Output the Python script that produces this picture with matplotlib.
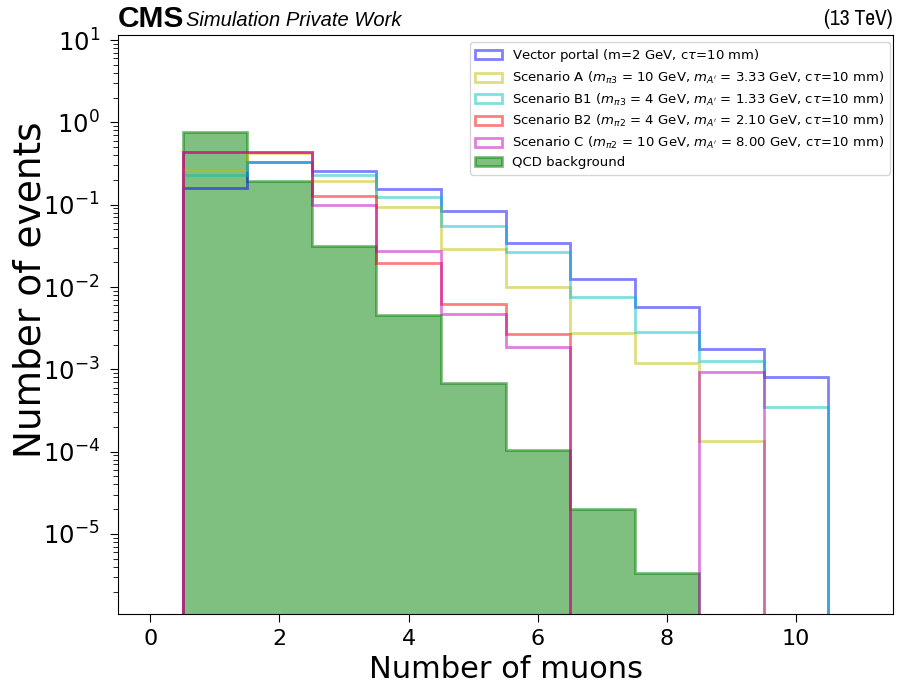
import numpy as np
import matplotlib
matplotlib.use("Agg")
import matplotlib.pyplot as plt
from matplotlib.ticker import FixedLocator, LogLocator, NullFormatter

# ---------------- data ----------------
n_muons = [1, 2, 3, 4, 5, 6, 7, 8, 9, 10]
bin_edges = [0.5, 1.5, 2.5, 3.5, 4.5, 5.5, 6.5, 7.5, 8.5, 9.5, 10.5]

vector_portal = [0.159, 0.332, 0.256, 0.153, 0.0843, 0.0339, 0.01236, 0.00565, 0.001745, 0.000811]
scenario_a = [0.263, 0.42, 0.192, 0.0943, 0.0286, 0.01005, 0.00278, 0.0012, 0.000133, 0.0]
scenario_b1 = [0.229, 0.332, 0.231, 0.1227, 0.0554, 0.02655, 0.0076, 0.002856, 0.00126, 0.000347]
scenario_b2 = [0.439, 0.432, 0.126, 0.01935, 0.00615, 0.00265, 0.0, 0.0, 0.0, 0.0]
scenario_c = [0.439, 0.432, 0.098, 0.0275, 0.00465, 0.00186, 0.0, 0.0, 0.000917, 0.0]
qcd = [0.762, 0.1935, 0.0317, 0.00456, 0.000674, 0.000104, 1.99e-5, 3.4e-6, 0.0, 0.0]

x_ticks = [0, 2, 4, 6, 8, 10]
y_ticks = [1e-5, 1e-4, 1e-3, 1e-2, 1e-1, 1e0, 1e1]

labels = [
    r"Vector portal (m=2 GeV, c$\tau$=10 mm)",
    r"Scenario A ($m_{\pi 3}$ = 10 GeV, $m_{A^{\prime}}$ = 3.33 GeV, c$\tau$=10 mm)",
    r"Scenario B1 ($m_{\pi 3}$ = 4 GeV, $m_{A^{\prime}}$ = 1.33 GeV, c$\tau$=10 mm)",
    r"Scenario B2 ($m_{\pi 2}$ = 4 GeV, $m_{A^{\prime}}$ = 2.10 GeV, c$\tau$=10 mm)",
    r"Scenario C ($m_{\pi 2}$ = 10 GeV, $m_{A^{\prime}}$ = 8.00 GeV, c$\tau$=10 mm)",
    "QCD background",
]
signal_series = [vector_portal, scenario_a, scenario_b1, scenario_b2, scenario_c]
signal_colors = ["b", "y", "c", "r", "m"]

# ---------------- figure ----------------
W, H = 897, 686
fig = plt.figure(figsize=(W / 100, H / 100), dpi=100)
ax = fig.add_axes([118 / W, (H - 614) / H, (893 - 118) / W, (614 - 35) / H])

for vals, col, lab in zip(signal_series, signal_colors, labels[:5]):
    ax.hist(n_muons, bins=bin_edges, weights=vals, histtype="step",
            color=col, alpha=0.5, linewidth=2, label=lab)
ax.hist(n_muons, bins=bin_edges, weights=qcd, histtype="stepfilled",
        facecolor="g", edgecolor="g", alpha=0.5, linewidth=2, label=labels[5])

ax.set_yscale("log")
ax.set_xlim(-0.5, 11.5)
ax.set_ylim(10 ** -5.972, 10 ** 1.061)
ax.set_xticks(x_ticks)
ax.yaxis.set_major_locator(FixedLocator(y_ticks))
ax.yaxis.set_minor_locator(LogLocator(base=10, subs=np.arange(2, 10)))
ax.yaxis.set_minor_formatter(NullFormatter())
ax.tick_params(axis="x", which="major", labelsize=16, length=6, pad=5)
ax.tick_params(axis="y", which="major", labelsize=17.5, length=6, pad=7)
ax.tick_params(axis="y", which="minor", length=3.5)
ax.set_xlabel("Number of muons", fontsize=22)
ax.set_ylabel("Number of events", fontsize=27)
ax.yaxis.set_label_coords(-0.09, 0.56)

ax.legend(loc="upper right", bbox_to_anchor=(0.9961, 0.9879), borderaxespad=0,
          fontsize=9.5, frameon=True, labelspacing=0.42)

fig.text(118 / W, 1 - 19 / H, "CMS", fontsize=21.5, fontweight="bold",
         family=["Liberation Sans", "DejaVu Sans"], va="center", ha="left")
fig.text(186 / W, 1 - 20 / H, "Simulation Private Work", fontsize=14.5, style="italic",
         family=["Liberation Sans", "DejaVu Sans"], va="center", ha="left")
fig.text(893 / W, 1 - 19 / H, "(13 TeV)", fontsize=15.5,
         family=["Archivo Narrow", "Liberation Sans", "DejaVu Sans"], va="center", ha="right")

fig.savefig("out.png", dpi=100)
